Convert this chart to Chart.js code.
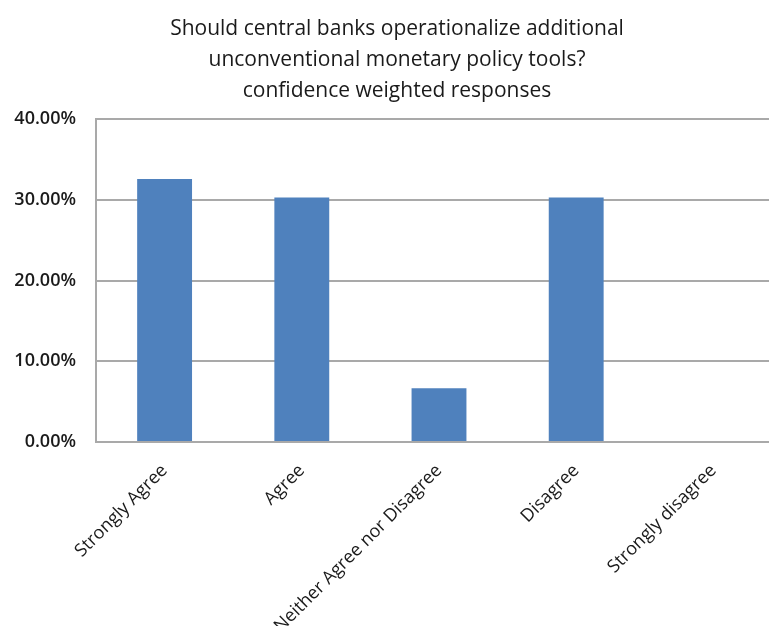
<!DOCTYPE html>
<html>
<head>
<meta charset="utf-8">
<script src="https://cdn.jsdelivr.net/npm/chart.js@4/dist/chart.umd.min.js"></script>
<style>
  html, body { margin: 0; padding: 0; background: #fff; overflow: hidden; }
  #wrap { width: 800px; height: 626px; }
</style>
</head>
<body>
<div id="wrap"><canvas id="chart" width="800" height="626"></canvas></div>
<script>
const titleLines = [
    "Should central banks operationalize additional",
    "unconventional monetary policy tools?",
    "confidence weighted responses"
];
const categories = ["Strongly Agree", "Agree", "Neither Agree nor Disagree", "Disagree", "Strongly disagree"];
const responseShares = [32.6, 30.3, 6.65, 30.3, 0];
const yTicks = [0, 10, 20, 30, 40];

const gridGray = "#a9a9a9";
const textColor = "#1a1a1a";

new Chart(document.getElementById("chart"), {
    type: "bar",
    data: {
        labels: categories,
        datasets: [
            {
                data: responseShares,
                backgroundColor: "#4f81bd",
                borderWidth: 0,
                barPercentage: 0.8,
                categoryPercentage: 0.5
            }
        ]
    },
    options: {
        responsive: false,
        animation: false,
        layout: {
            padding: { left: 12, right: 18, top: 0, bottom: 0 }
        },
        plugins: {
            legend: { display: false },
            tooltip: { enabled: false },
            title: {
                display: true,
                text: titleLines,
                color: textColor,
                font: { family: "Open Sans", size: 21, weight: "normal", lineHeight: 1.48 },
                padding: { top: 13, bottom: 13 }
            }
        },
        scales: {
            x: {
                grid: { display: false },
                border: { display: false },
                ticks: {
                    color: textColor,
                    font: { family: "Open Sans", size: 18 },
                    minRotation: 45,
                    maxRotation: 45,
                    autoSkip: false,
                    padding: 10
                },
                afterFit: (scale) => {
                    scale.height = 184;
                }
            },
            y: {
                min: 0,
                max: 40,
                afterBuildTicks: (scale) => {
                    scale.ticks = yTicks.map(v => ({ value: v }));
                },
                grid: {
                    color: gridGray,
                    lineWidth: 2,
                    drawTicks: false
                },
                border: { color: gridGray, width: 2 },
                ticks: {
                    color: textColor,
                    font: { family: "Open Sans", size: 18, weight: "600" },
                    padding: 20,
                    callback: (v) => v.toFixed(2) + "%"
                },
                afterFit: (scale) => {
                    scale.width = 84;
                }
            }
        }
    }
});
</script>
</body>
</html>
